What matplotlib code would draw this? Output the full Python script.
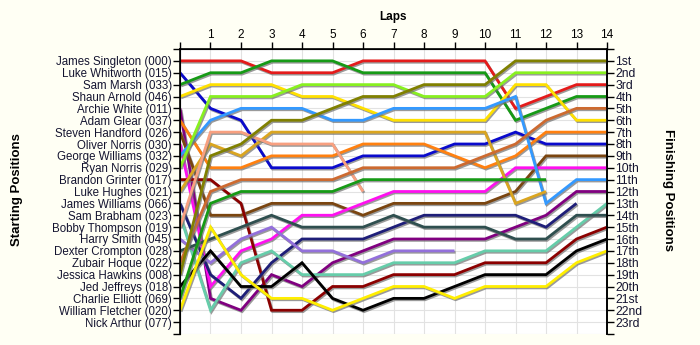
import matplotlib
matplotlib.use("Agg")
import matplotlib.pyplot as plt
import matplotlib.patheffects as pe

plt.rcParams['font.family'] = ['Liberation Sans', 'DejaVu Sans']

starting_labels = [
    "James Singleton (000)", "Luke Whitworth (015)", "Sam Marsh (033)", "Shaun Arnold (046)",
    "Archie White (011)", "Adam Glear (037)", "Steven Handford (026)", "Oliver Norris (030)",
    "George Williams (032)", "Ryan Norris (029)", "Brandon Grinter (017)", "Luke Hughes (021)",
    "James Williams (066)", "Sam Brabham (023)", "Bobby Thompson (019)", "Harry Smith (045)",
    "Dexter Crompton (028)", "Zubair Hoque (022)", "Jessica Hawkins (008)", "Jed Jeffreys (018)",
    "Charlie Elliott (069)", "William Fletcher (020)", "Nick Arthur (077)",
]
finishing_labels = ["1st", "2nd", "3rd", "4th", "5th", "6th", "7th", "8th", "9th", "10th",
                    "11th", "12th", "13th", "14th", "15th", "16th", "17th", "18th", "19th",
                    "20th", "21st", "22nd", "23rd"]
lap_labels = ["", "1", "2", "3", "4", "5", "6", "7", "8", "9", "10", "11", "12", "13", "14"]

# position per lap (lap 0 = start)
pos_singleton = [1, 1, 1, 2, 2, 2, 1, 1, 1, 1, 1, 5, 4, 3, 3]
pos_whitworth = [2, 5, 6, 10, 10, 10, 9, 9, 9, 8, 8, 7, 8, 8, 8]
pos_marsh = [3, 2, 2, 1, 1, 1, 2, 2, 2, 2, 2, 6, 5, 4, 4]
pos_arnold = [4, 3, 3, 3, 4, 4, 5, 6, 6, 6, 6, 3, 3, 6, 6]
pos_white = [5, 21, 22, 19, 20, 18, 17, 16, 16, 16, 16, 15, 14, 12, 12]
pos_glear = [6, 10, 10, 9, 9, 9, 8, 8, 8, 9, 10, 9, 7, 7, 7]
pos_handford = [7, 14, 14, 13, 13, 13, 14, 13, 13, 13, 13, 12, 9, 9, 9]
pos_o_norris = [8, 20, 17, 16, 14, 14, 13, 12, 12, 12, 12, 10, 10, 10, 10]
pos_g_williams = [9, 6, 5, 5, 5, 6, 6, 5, 5, 5, 5, 4, 13, 11, 11]
pos_r_norris = [10, 4, 4, 4, 3, 3, 3, 3, 4, 4, 4, 2, 2, 2, 2]
pos_grinter = [11, 11, 13, 22, 22, 20, 20, 19, 19, 19, 18, 18, 18, 16, 15]
pos_hughes = [12, 8, 9, 7, 7, 7, 7, 7, 7, 7, 7, 13, 12]
pos_j_williams = [13, 19, 21, 18, 16, 16, 16, 15, 14, 14, 14, 14, 15, 13]
pos_brabham = [14, 22, 18, 17, 19, 19, 19, 18, 18, 18, 17, 17, 17, 15, 13]
pos_thompson = [15, 7, 7, 8, 8, 8, 12]
pos_smith = [16, 18, 16, 15, 17, 17, 18, 17, 17, 17]
pos_crompton = [17, 16, 15, 14, 15, 15, 15, 14, 15, 15, 15, 16, 16, 14, 14]
pos_hoque = [18, 12, 11, 11, 11, 11, 10, 10, 10, 10, 9, 8, 6, 5, 5]
pos_hawkins = [19, 9, 8, 6, 6, 5, 4, 4, 3, 3, 3, 1, 1, 1, 1]
pos_jeffreys = [20, 17, 20, 20, 18, 21, 22, 21, 21, 20, 19, 19, 19, 17, 16]
pos_elliott = [21, 13, 12, 12, 12, 12, 11, 11, 11, 11, 11, 11, 11]
pos_fletcher = [22, 15, 19, 21, 21, 22, 21, 20, 20, 21, 20, 20, 20, 18, 17]

series = [
    (pos_singleton, "#E41B1B"), (pos_whitworth, "#0A0ACC"), (pos_marsh, "#169A16"),
    (pos_arnold, "#FFE000"), (pos_white, "#800080"), (pos_glear, "#FF8010"),
    (pos_handford, "#7A4510"), (pos_o_norris, "#FF10F0"), (pos_g_williams, "#3399FF"),
    (pos_r_norris, "#88F020"), (pos_grinter, "#8B0000"), (pos_hughes, "#DAA520"),
    (pos_j_williams, "#1E1E78"), (pos_brabham, "#66CDAA"), (pos_thompson, "#F8A080"),
    (pos_smith, "#9370DB"), (pos_crompton, "#2F4F4F"), (pos_hoque, "#CD6A30"),
    (pos_hawkins, "#808000"), (pos_jeffreys, "#000000"), (pos_elliott, "#169A16"),
    (pos_fletcher, "#FFEE00"),
]

fig = plt.figure(figsize=(7.0, 3.45), dpi=100, facecolor="#FFFFF4")
ax = fig.add_axes([180 / 700, 1 - 334 / 345, 427 / 700, 285 / 345])
ax.set_facecolor("#FFFFFF")

for vals, col in series:
    ax.plot(range(len(vals)), vals, color=col, lw=2.0, solid_joinstyle="miter",
            solid_capstyle="butt", zorder=3,
            path_effects=[pe.SimpleLineShadow(offset=(0.8, -1.0), shadow_color="#707070", alpha=0.7),
                          pe.Normal()])

ax.set_xlim(0, 14)
ax.set_ylim(24, 0)

ax.set_xticks(range(15))
ax.set_xticklabels(lap_labels, fontsize=8.5)
ax.xaxis.tick_top()
ax.tick_params(axis="x", direction="out", length=5, width=1, pad=1)

ax.set_yticks(range(0, 25))
ax.set_yticklabels([""] + starting_labels + [""], fontsize=8.3, color="#141430")
ax.tick_params(axis="y", direction="out", length=5, width=1, pad=1)

ax.grid(True, color="#E2E2E2", lw=0.8, zorder=0)
ax.set_axisbelow(True)
for s in ["left", "right", "top"]:
    ax.spines[s].set_linewidth(1.2)
ax.spines["bottom"].set_visible(False)

ax2 = ax.twinx()
ax2.set_ylim(24, 0)
ax2.set_yticks(range(0, 25))
ax2.set_yticklabels([""] + finishing_labels + [""], fontsize=8.7, color="#141430")
ax2.tick_params(axis="y", direction="out", length=5, width=1, pad=1)
ax2.spines["bottom"].set_visible(False)
ax2.spines["right"].set_linewidth(1.2)

fig.text(393 / 700, 1 - 17 / 345, "Laps", ha="center", va="center", fontsize=8.5, fontweight="bold")
fig.text(17 / 700, 1 - 190 / 345, "Starting Positions", ha="center", va="center", rotation=90,
         fontsize=9.5, fontweight="bold")
fig.text(668 / 700, 1 - 190 / 345, "Finishing Positions", ha="center", va="center", rotation=-90,
         fontsize=9.5, fontweight="bold")

fig.savefig("out.png", dpi=100, facecolor=fig.get_facecolor())
